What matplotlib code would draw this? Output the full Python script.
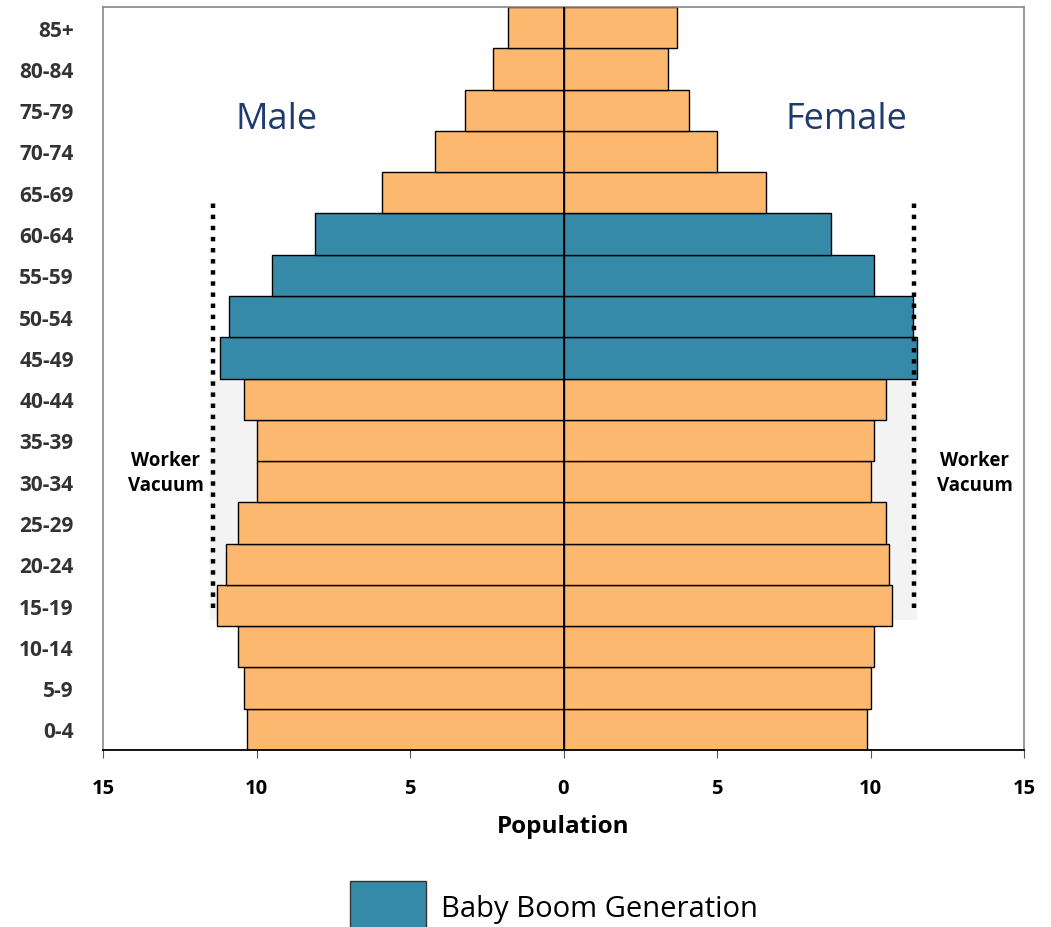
import matplotlib
matplotlib.use("Agg")
import matplotlib.pyplot as plt
from matplotlib.patches import Patch, Rectangle

plt.rcParams['font.family'] = ['Open Sans', 'DejaVu Sans']

age_groups = ["0-4", "5-9", "10-14", "15-19", "20-24", "25-29", "30-34", "35-39",
              "40-44", "45-49", "50-54", "55-59", "60-64", "65-69", "70-74",
              "75-79", "80-84", "85+"]
male = [10.3, 10.4, 10.6, 11.3, 11.0, 10.6, 10.0, 10.0, 10.4, 11.2, 10.9, 9.5,
        8.1, 5.9, 4.2, 3.2, 2.3, 1.8]
female = [9.9, 10.0, 10.1, 10.7, 10.6, 10.5, 10.0, 10.1, 10.5, 11.5, 11.4, 10.1,
          8.7, 6.6, 5.0, 4.1, 3.4, 3.7]
baby_boom = ["45-49", "50-54", "55-59", "60-64"]
x_ticks = [-15, -10, -5, 0, 5, 10, 15]
x_tick_labels = ["15", "10", "5", "0", "5", "10", "15"]

orange = "#FDB870"
blue = "#358AA8"

fig = plt.figure(figsize=(10.51, 9.28), dpi=100)
ax = fig.add_axes([103/1051, 1 - 751/928, (1024-103)/1051, (751-8)/928])

y = list(range(len(age_groups)))
colors = [blue if a in baby_boom else orange for a in age_groups]

# worker vacuum shading
ax.add_patch(Rectangle((-11.5, 2.66), 23.0, 8.5 - 2.66, facecolor="#f3f3f3",
                       edgecolor="none", zorder=0))

ax.barh(y, [-m for m in male], height=1.0, color=colors, edgecolor="black",
        linewidth=1.0, zorder=2)
ax.barh(y, female, height=1.0, color=colors, edgecolor="black",
        linewidth=1.0, zorder=2)
ax.axvline(0, color="black", linewidth=1.3, zorder=3)

for xv in (-11.43, 11.43):
    ax.plot([xv, xv], [2.95, 12.8], color="black", linewidth=3.2,
            linestyle=(0, (1, 1.5)), zorder=4)

ax.text(-9.35, 14.78, "Male", fontsize=26, color="#1F3A6E", ha="center", va="center")
ax.text(9.2, 14.78, "Female", fontsize=26, color="#1F3A6E", ha="center", va="center")
ax.text(-12.95, 6.22, "Worker\nVacuum", fontsize=13.5, fontweight="bold",
        ha="center", va="center", linespacing=1.3)
ax.text(13.4, 6.22, "Worker\nVacuum", fontsize=13.5, fontweight="bold",
        ha="center", va="center", linespacing=1.3)

ax.set_xlim(-15, 15)
ax.set_ylim(-0.5, 17.5)
ax.set_xticks(x_ticks)
ax.set_xticklabels(x_tick_labels, fontsize=14.5, fontweight="bold")
ax.set_yticks(y)
ax.set_yticklabels(age_groups, fontsize=15, fontweight="bold", color="#333333")
ax.tick_params(axis="y", length=0, pad=21)
ax.tick_params(axis="x", length=6, color="#555555", pad=14)
for s in ("left", "right", "top"):
    ax.spines[s].set_color("#888888")
    ax.spines[s].set_linewidth(1.2)
ax.spines["bottom"].set_color("black")
ax.spines["bottom"].set_linewidth(1.3)
ax.set_xlabel("Population", fontsize=17.5, fontweight="bold", labelpad=12)

leg = fig.legend(handles=[Patch(facecolor=blue, edgecolor="#333333",
                                label="Baby Boom Generation")],
                 loc="center", bbox_to_anchor=(0.527, 1 - 908/928),
                 frameon=False, fontsize=21, handlelength=2.6, handleheight=2.4,
                 handletextpad=0.5, borderpad=0, borderaxespad=0)

fig.savefig("out.png", dpi=100)
